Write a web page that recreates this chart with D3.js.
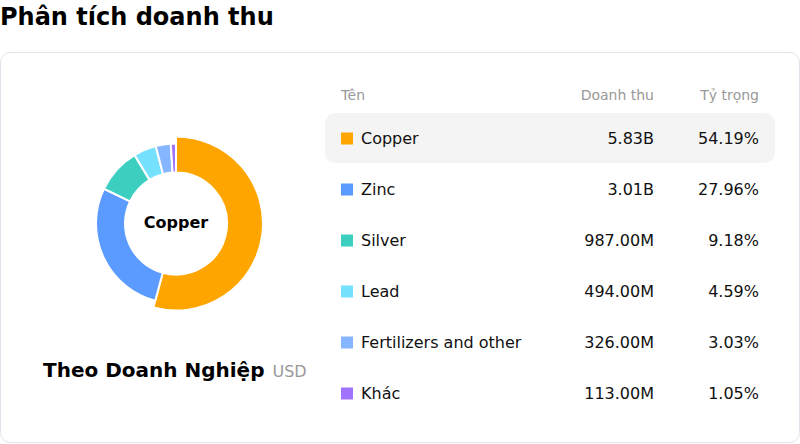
<!DOCTYPE html>
<html><head><meta charset="utf-8">
<script src="https://cdn.jsdelivr.net/npm/d3@7"></script>
<style>
html,body{margin:0;padding:0;background:#fff;}
svg{display:block;font-family:"DejaVu Sans",sans-serif;}
</style></head>
<body>
<svg id="c" width="800" height="444"></svg>
<script>
const categories = ["Copper","Zinc","Silver","Lead","Fertilizers and other","Khác"];
const revenues = [5830000000, 3010000000, 987000000, 494000000, 326000000, 113000000];
const revenueLabels = ["5.83B","3.01B","987.00M","494.00M","326.00M","113.00M"];
const shares = ["54.19%","27.96%","9.18%","4.59%","3.03%","1.05%"];
const colors = ["#FFA500","#5B9BFF","#3CCFBF","#76E0FF","#86B6FF","#A174FF"];
const headers = ["Tên","Doanh thu","Tỷ trọng"];
const activeIndex = 0;

const svg = d3.select("#c");

// title
svg.append("text").attr("x",0).attr("y",25).attr("font-size",24).attr("font-weight","bold")
  .attr("fill","#000").text("Phân tích doanh thu");

// card
svg.append("rect").attr("x",0.5).attr("y",52.5).attr("width",799).attr("height",390)
  .attr("rx",10).attr("fill","#fff").attr("stroke","#e2e2ec");

// donut
const cx = 176, cy = 223.5;
const pie = d3.pie().sort(null).value(d=>d)(revenues);
const arc = d3.arc().innerRadius(51).outerRadius(80);
const arcActive = d3.arc().innerRadius(51).outerRadius(87);
const g = svg.append("g").attr("transform",`translate(${cx},${cy})`);
g.selectAll("path").data(pie).join("path")
  .attr("d",(d,i)=> i===activeIndex ? arcActive(d) : arc(d))
  .attr("fill",(d,i)=>colors[i])
  .attr("stroke","#fff").attr("stroke-width",2).attr("stroke-linejoin","round");
g.append("text").attr("text-anchor","middle").attr("dy","0.35em").attr("y",-1)
  .attr("font-size",16).attr("font-weight","bold").attr("fill","#000").text(categories[activeIndex]);

// subtitle
const sub = svg.append("text").attr("x",43).attr("y",377);
sub.append("tspan").attr("font-size",20).attr("font-weight","bold").attr("fill","#000").text("Theo Doanh Nghiệp");
sub.append("tspan").attr("dx",8).attr("font-size",16).attr("fill","#999").text("USD");

// table
const xName = 341, xRev = 654, xShare = 759;
const hy = 100;
svg.append("text").attr("x",xName).attr("y",hy).attr("font-size",14).attr("fill","#999").text(headers[0]);
svg.append("text").attr("x",xRev).attr("y",hy).attr("text-anchor","end").attr("font-size",14).attr("fill","#999").text(headers[1]);
svg.append("text").attr("x",xShare).attr("y",hy).attr("text-anchor","end").attr("font-size",14).attr("fill","#999").text(headers[2]);

const y = d3.scaleBand().domain(categories).range([113, 113+51*categories.length]);
const rows = svg.selectAll("g.row").data(categories).join("g").attr("class","row")
  .attr("transform",d=>`translate(0,${y(d)})`);
rows.filter((d,i)=>i===activeIndex).append("rect")
  .attr("x",325).attr("y",0).attr("width",450).attr("height",50).attr("rx",10).attr("fill","#f4f4f4");
const mid = 25.5;
rows.append("rect").attr("x",xName).attr("y",mid-6).attr("width",12).attr("height",12).attr("fill",(d,i)=>colors[i]);
rows.append("text").attr("x",361).attr("y",mid).attr("dy","0.35em").attr("font-size",16).attr("fill","#111").text(d=>d);
rows.append("text").attr("x",xRev).attr("y",mid).attr("dy","0.35em").attr("text-anchor","end").attr("font-size",16).attr("fill","#111").text((d,i)=>revenueLabels[i]);
rows.append("text").attr("x",xShare).attr("y",mid).attr("dy","0.35em").attr("text-anchor","end").attr("font-size",16).attr("fill","#111").text((d,i)=>shares[i]);
</script>
</body></html>
